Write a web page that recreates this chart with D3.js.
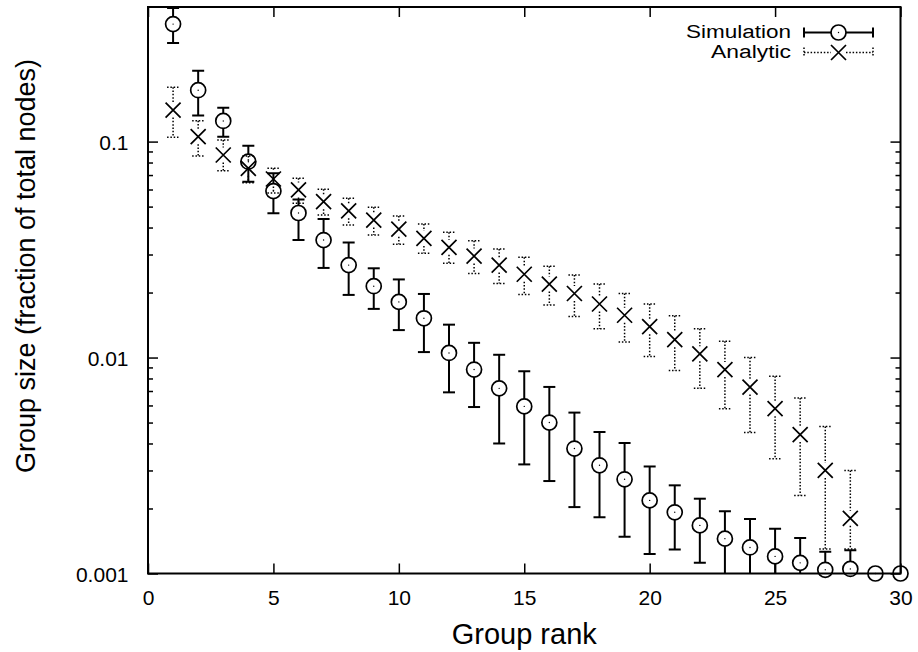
<!DOCTYPE html>
<html>
<head>
<meta charset="utf-8">
<script src="https://cdn.jsdelivr.net/npm/d3@7"></script>
<style>
  body { margin: 0; background: #fff; }
  text { font-family: "Liberation Sans", Arial, Helvetica, sans-serif; fill: #000; }
</style>
</head>
<body>
<svg id="chart" width="918" height="652"></svg>
<script>
// Group rank (x) for the two series
const simRanks = [1,2,3,4,5,6,7,8,9,10,11,12,13,14,15,16,17,18,19,20,21,22,23,24,25,26,27,28,29,30];
const anaRanks = [1,2,3,4,5,6,7,8,9,10,11,12,13,14,15,16,17,18,19,20,21,22,23,24,25,26,27,28];

// Simulation: mean group size and error bar bounds (fraction of total nodes)
const simMean = [0.350,0.173,0.1246,0.0807,0.0590,0.0467,0.0350,0.0268,0.0214,0.0181,
                 0.0152,0.0105,0.0088,0.0072,0.00594,0.00500,0.00379,0.00317,0.00273,0.00218,
                 0.00192,0.00167,0.00145,0.00132,0.00120,0.00112,0.00104,0.00105,0.0010,0.0010];
const simHigh = [0.416,0.213,0.1436,0.0957,0.0713,0.0540,0.0438,0.0341,0.0259,0.0230,
                 0.0197,0.0142,0.0117,0.0103,0.00864,0.00731,0.00556,0.00452,0.00402,0.00313,
                 0.00256,0.00222,0.00194,0.00179,0.00161,0.00146,0.00126,0.00128,0.0010,0.0010];
const simLow  = [0.286,0.132,0.1054,0.0652,0.0466,0.0350,0.0260,0.0195,0.0168,0.0134,
                 0.0106,0.0069,0.0059,0.0040,0.00320,0.00268,0.00203,0.00182,0.00148,0.00123,
                 0.00129,0.00112,0.00095,0.00085,0.00078,0.00075,0.00080,0.00082,0.0010,0.0010];

// Analytic: predicted group size and error bar bounds
const anaMean = [0.140,0.1054,0.0867,0.0752,0.0671,0.0597,0.0527,0.0478,0.0433,0.0393,
                 0.0356,0.0324,0.0295,0.0268,0.0243,0.0219,0.0198,0.0177,0.0157,0.0139,
                 0.0121,0.0104,0.0088,0.0073,0.0058,0.0044,0.0030,0.0018];
const anaHigh = [0.1785,0.125,0.1017,0.0858,0.0752,0.0676,0.0601,0.0546,0.0496,0.0452,
                 0.0415,0.0380,0.0347,0.0318,0.0291,0.0265,0.0241,0.0219,0.0198,0.0177,
                 0.0156,0.0136,0.0119,0.0100,0.0082,0.0065,0.0048,0.0030];
const anaLow  = [0.1047,0.0858,0.0733,0.0645,0.0578,0.0518,0.0457,0.0411,0.0369,0.0335,
                 0.0304,0.0273,0.0245,0.0220,0.0196,0.0175,0.0155,0.0136,0.0118,0.0101,
                 0.0087,0.0072,0.0058,0.0045,0.0034,0.0023,0.0013,0.0013];

// Axis ticks and labels
const xTicks = [0,5,10,15,20,25,30];
const yTicks = [0.001,0.01,0.1];
const yTickLabels = ["0.001","0.01","0.1"];
const yMinorTicks = [0.002,0.003,0.004,0.005,0.006,0.007,0.008,0.009,
                     0.02,0.03,0.04,0.05,0.06,0.07,0.08,0.09];
const xDomain = [0, 30];
const yDomain = [0.001, 0.42];
const seriesNames = ["Simulation", "Analytic"];
const xTitle = "Group rank";
const yTitle = "Group size (fraction of total nodes)";

const svg = d3.select("#chart");
const plotL = 148, plotR = 900.5, plotT = 7, plotB = 573.5;

const x = d3.scaleLinear().domain(xDomain).range([plotL, plotR]);
const y = d3.scaleLog().domain(yDomain).range([plotB, plotT]);

const R = 7.5;          // marker half-size
const CAP = 6;          // error bar cap half-width
const DOT = "1.5,1.8";  // dotted pattern

svg.append("defs").append("clipPath").attr("id", "plotClip")
  .append("rect").attr("x", plotL).attr("y", plotT)
  .attr("width", plotR - plotL).attr("height", plotB - plotT);

// ---- axes (ticks point inward on all four sides) ----
function styleAxis(g) {
  g.select(".domain").remove();
  g.selectAll(".tick line").attr("stroke", "#000").attr("stroke-width", 1.5);
  g.selectAll(".tick text").style("font-size", "21px").attr("fill", "#000");
}

svg.append("g").attr("transform", `translate(0,${plotB})`)
  .call(d3.axisBottom(x).tickValues(xTicks).tickFormat(d3.format("d"))
        .tickSizeInner(-10).tickSizeOuter(0).tickPadding(17))
  .call(styleAxis);
svg.append("g").attr("transform", `translate(0,${plotT})`)
  .call(d3.axisTop(x).tickValues(xTicks).tickFormat("")
        .tickSizeInner(-10).tickSizeOuter(0))
  .call(styleAxis);

svg.append("g").attr("transform", `translate(${plotL},0)`)
  .call(d3.axisLeft(y).tickValues(yTicks).tickFormat((d, i) => yTickLabels[i])
        .tickSizeInner(-10).tickSizeOuter(0).tickPadding(19.5))
  .call(styleAxis)
  .call(g => g.selectAll(".tick text").attr("dy", "0.38em"));
svg.append("g").attr("transform", `translate(${plotL},0)`)
  .call(d3.axisLeft(y).tickValues(yMinorTicks).tickFormat("")
        .tickSizeInner(-5).tickSizeOuter(0))
  .call(styleAxis);
svg.append("g").attr("transform", `translate(${plotR},0)`)
  .call(d3.axisRight(y).tickValues(yTicks).tickFormat("")
        .tickSizeInner(-10).tickSizeOuter(0))
  .call(styleAxis);
svg.append("g").attr("transform", `translate(${plotR},0)`)
  .call(d3.axisRight(y).tickValues(yMinorTicks).tickFormat("")
        .tickSizeInner(-5).tickSizeOuter(0))
  .call(styleAxis);

// frame
svg.append("rect").attr("x", plotL).attr("y", plotT)
  .attr("width", plotR - plotL).attr("height", plotB - plotT)
  .attr("fill", "none").attr("stroke", "#000").attr("stroke-width", 2);

// axis titles
svg.append("text").attr("x", (plotL + plotR) / 2).attr("y", 644)
  .attr("text-anchor", "middle").style("font-size", "29px").text(xTitle);
svg.append("text")
  .attr("transform", `translate(35,266) rotate(-90)`)
  .attr("text-anchor", "middle").style("font-size", "27px").text(yTitle);

// ---- error bars ----
function errorBars(g, xs, mean, low, high, dashed) {
  const sw = dashed ? 1.5 : 2;
  const da = dashed ? DOT : null;
  xs.forEach((r, i) => {
    const cx = x(r), cy = y(mean[i]);
    const yh = y(high[i]), yl = y(low[i]);
    const segs = [];
    if (cy - R - yh > 0) segs.push([cx, yh, cx, cy - R]);
    if (yl - (cy + R) > 0) segs.push([cx, cy + R, cx, yl]);
    if (yh < cy) segs.push([cx - CAP, yh, cx + CAP, yh]);
    if (yl > cy) segs.push([cx - CAP, yl, cx + CAP, yl]);
    segs.forEach(s => {
      g.append("line").attr("x1", s[0]).attr("y1", s[1]).attr("x2", s[2]).attr("y2", s[3])
        .attr("stroke", "#000").attr("stroke-width", sw).attr("stroke-dasharray", da);
    });
  });
}

const bars = svg.append("g").attr("clip-path", "url(#plotClip)");
errorBars(bars, anaRanks, anaMean, anaLow, anaHigh, true);
errorBars(bars, simRanks, simMean, simLow, simHigh, false);

// ---- markers ----
function drawCircle(g, cx, cy) {
  g.append("circle").attr("cx", cx).attr("cy", cy).attr("r", R)
    .attr("fill", "none").attr("stroke", "#000").attr("stroke-width", 1.7);
  g.append("circle").attr("cx", cx).attr("cy", cy).attr("r", 0.7).attr("fill", "#000");
}
function drawCross(g, cx, cy) {
  g.append("path")
    .attr("d", `M${cx - R},${cy - R}L${cx + R},${cy + R}M${cx - R},${cy + R}L${cx + R},${cy - R}`)
    .attr("stroke", "#000").attr("stroke-width", 1.7).attr("fill", "none");
}

const marks = svg.append("g");
anaRanks.forEach((r, i) => drawCross(marks, x(r), y(anaMean[i])));
simRanks.forEach((r, i) => drawCircle(marks, x(r), y(simMean[i])));

// ---- legend ----
const legend = svg.append("g");
const lx0 = 804, lx1 = 873, lxm = (lx0 + lx1) / 2;
const rows = [{ y: 32.5, dashed: false, w: 105 }, { y: 52.5, dashed: true, w: 80 }];
rows.forEach((row, k) => {
  legend.append("text").attr("x", 791).attr("y", row.y + 5)
    .attr("text-anchor", "end").style("font-size", "18px")
    .attr("textLength", row.w).attr("lengthAdjust", "spacingAndGlyphs")
    .text(seriesNames[k]);
  const sw = row.dashed ? 1.5 : 2, da = row.dashed ? DOT : null;
  const segs = [[lx0, row.y, lxm - R, row.y], [lxm + R, row.y, lx1, row.y],
                [lx0, row.y - 5, lx0, row.y + 5], [lx1, row.y - 5, lx1, row.y + 5]];
  segs.forEach(s => legend.append("line")
    .attr("x1", s[0]).attr("y1", s[1]).attr("x2", s[2]).attr("y2", s[3])
    .attr("stroke", "#000").attr("stroke-width", sw).attr("stroke-dasharray", da));
  if (row.dashed) drawCross(legend, lxm, row.y); else drawCircle(legend, lxm, row.y);
});
</script>
</body>
</html>
